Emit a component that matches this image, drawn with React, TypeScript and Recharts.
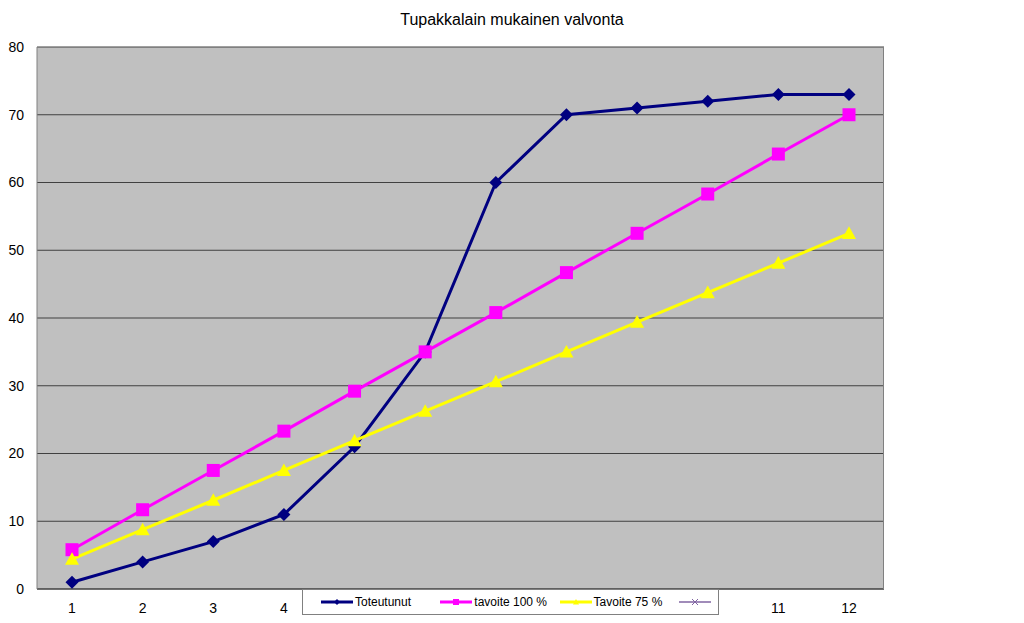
import { LineChart, Line, XAxis, YAxis, CartesianGrid } from 'recharts';

const months = ['1', '2', '3', '4', '5', '6', '7', '8', '9', '10', '11', '12'];
const toteutunut = [1, 4, 7, 11, 21, 35, 60, 70, 71, 72, 73, 73];
const tavoite100 = [5.8, 11.7, 17.5, 23.3, 29.2, 35, 40.8, 46.7, 52.5, 58.3, 64.2, 70];
const tavoite75 = [4.4, 8.75, 13.1, 17.5, 21.9, 26.25, 30.6, 35, 39.4, 43.75, 48.1, 52.5];
const yTicks = [0, 10, 20, 30, 40, 50, 60, 70, 80];

const data = months.map((m, i) => ({
  month: m,
  toteutunut: toteutunut[i],
  tavoite100: tavoite100[i],
  tavoite75: tavoite75[i],
  empty: null,
}));

const FONT = '"Liberation Sans", Arial, sans-serif';
const LEGEND_LEFT = 302;
const LEGEND_W = 417;

const Diamond = ({ cx, cy, fill, size = 6.5 }: any) =>
  cx == null || cy == null ? null : (
    <polygon points={`${cx},${cy - size} ${cx + size},${cy} ${cx},${cy + size} ${cx - size},${cy}`} fill={fill} />
  );

const Square = ({ cx, cy, fill, size = 6.5 }: any) =>
  cx == null || cy == null ? null : (
    <rect x={cx - size} y={cy - size} width={size * 2} height={size * 2} fill={fill} />
  );

const Triangle = ({ cx, cy, fill, size = 7 }: any) =>
  cx == null || cy == null ? null : (
    <polygon points={`${cx},${cy - size} ${cx + size},${cy + size * 0.8} ${cx - size},${cy + size * 0.8}`} fill={fill} />
  );

// x labels under the legend box are hidden by it in the original
const XTick = ({ x, y, payload }: any) => {
  if (x > LEGEND_LEFT - 10 && x < LEGEND_LEFT + LEGEND_W + 10) return null;
  return (
    <text x={x} y={y} dy={12} textAnchor="middle" fontFamily={FONT} fontSize={14} fill="#000">
      {payload.value}
    </text>
  );
};

const legendItems = [
  { label: 'Toteutunut', color: '#000080', shape: 'diamond' },
  { label: 'tavoite 100 %', color: '#FF00FF', shape: 'square' },
  { label: 'Tavoite 75 %', color: '#FFFF00', shape: 'triangle' },
  { label: '', color: '#8064A2', shape: 'x' },
];

function LegendBox() {
  return (
    <div
      style={{
        position: 'absolute',
        left: LEGEND_LEFT,
        top: 589,
        width: LEGEND_W,
        height: 26,
        boxSizing: 'border-box',
        background: '#fff',
        border: '1px solid #808080',
        display: 'flex',
        alignItems: 'center',
        fontFamily: FONT,
        fontSize: 12,
        color: '#000',
      }}
    >
      {legendItems.map((it, i) => (
        <div key={i} style={{ display: 'flex', alignItems: 'center', marginLeft: i === 0 ? 18 : 0, width: i === 3 ? 40 : 122 }}>
          <svg width={32} height={10}>
            <line x1={0} y1={5} x2={32} y2={5} stroke={it.color} strokeWidth={it.shape === 'x' ? 1.5 : 3} />
            {it.shape === 'diamond' && <Diamond cx={16} cy={5} size={3} fill={it.color} />}
            {it.shape === 'square' && <Square cx={16} cy={5} size={3} fill={it.color} />}
            {it.shape === 'triangle' && <Triangle cx={16} cy={5} size={3} fill={it.color} />}
            {it.shape === 'x' && (
              <g stroke={it.color} strokeWidth={1}>
                <line x1={13} y1={2} x2={19} y2={8} />
                <line x1={13} y1={8} x2={19} y2={2} />
              </g>
            )}
          </svg>
          <span style={{ marginLeft: 2 }}>{it.label}</span>
        </div>
      ))}
    </div>
  );
}

export default function App() {
  return (
    <div style={{ position: 'absolute', left: 0, top: 0, width: 1024, height: 623, background: '#fff' }}>
      <div
        style={{
          position: 'absolute',
          top: 11,
          width: 1024,
          textAlign: 'center',
          fontFamily: FONT,
          fontSize: 16,
          color: '#000',
        }}
      >
        Tupakkalain mukainen valvonta
      </div>
      <LineChart width={1024} height={623} data={data} margin={{ top: 47, right: 140, bottom: 4, left: 7 }}>
        <CartesianGrid vertical={false} stroke="#404040" fill="#C0C0C0" />
        <XAxis
          dataKey="month"
          height={30}
          tickLine={false}
          axisLine={{ stroke: '#404040' }}
          tick={<XTick />}
          tickMargin={6}
          interval={0}
          padding={{ left: 35, right: 35 }}
        />
        <YAxis
          width={30}
          domain={[0, 80]}
          ticks={yTicks}
          tickLine={false}
          axisLine={{ stroke: '#808080' }}
          tick={{ fontFamily: FONT, fontSize: 14, fill: '#000' }}
          tickMargin={7}
        />
        <Line
          dataKey="toteutunut"
          stroke="#000080"
          strokeWidth={3}
          dot={(p: any) => <Diamond key={p.index} cx={p.cx} cy={p.cy} fill="#000080" />}
          isAnimationActive={false}
        />
        <Line
          dataKey="tavoite100"
          stroke="#FF00FF"
          strokeWidth={3}
          dot={(p: any) => <Square key={p.index} cx={p.cx} cy={p.cy} fill="#FF00FF" />}
          isAnimationActive={false}
        />
        <Line
          dataKey="tavoite75"
          stroke="#FFFF00"
          strokeWidth={3}
          dot={(p: any) => <Triangle key={p.index} cx={p.cx} cy={p.cy} fill="#FFFF00" />}
          isAnimationActive={false}
        />
        <Line dataKey="empty" stroke="#8064A2" strokeWidth={2} dot={false} isAnimationActive={false} />
      </LineChart>
      <div
        style={{
          position: 'absolute',
          left: 37,
          top: 47,
          width: 847,
          height: 542,
          boxSizing: 'border-box',
          borderTop: '1px solid #808080',
          borderRight: '1px solid #808080',
          pointerEvents: 'none',
        }}
      />
      <LegendBox />
    </div>
  );
}
